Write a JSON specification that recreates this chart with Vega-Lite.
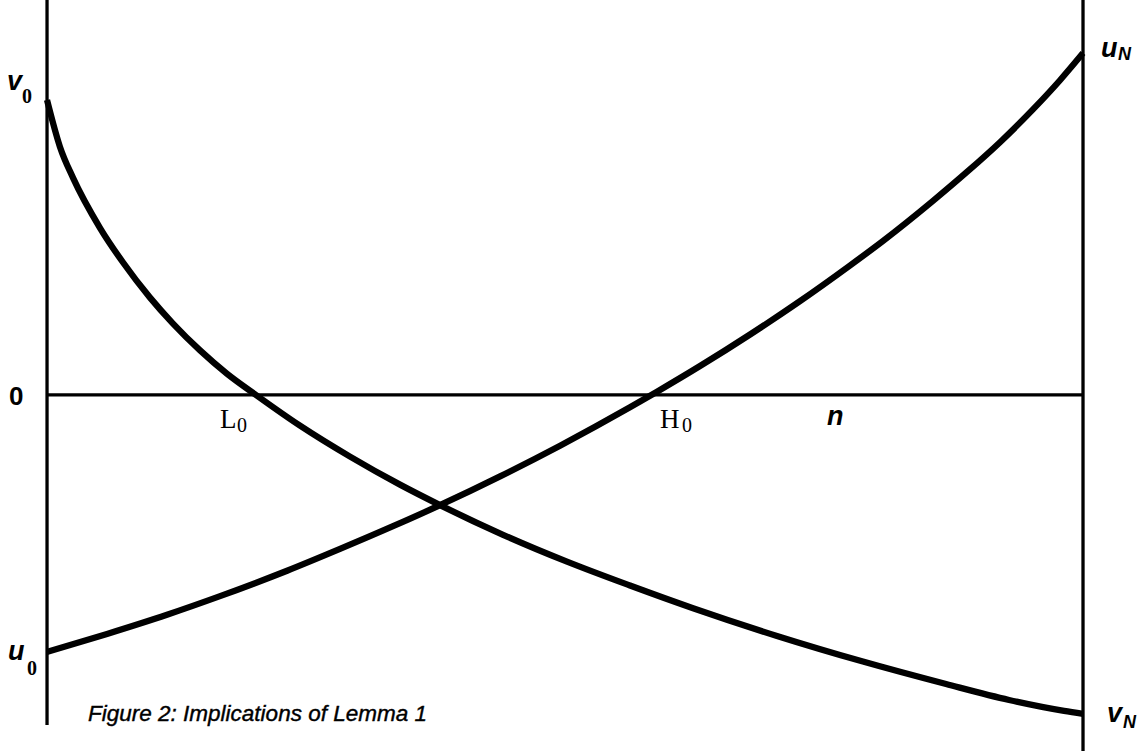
{
  "$schema": "https://vega.github.io/schema/vega-lite/v6.json",
  "width": 1146,
  "height": 751,
  "autosize": "none",
  "padding": 0,
  "background": "white",
  "config": {"view": {"stroke": null}},
  "datasets": {
    "curves": [
      {"series": "v", "n": 0, "val": 10.0},
      {"series": "v", "n": 1.25, "val": 8.41},
      {"series": "v", "n": 2.51, "val": 7.36},
      {"series": "v", "n": 5.12, "val": 5.66},
      {"series": "v", "n": 7.34, "val": 4.49},
      {"series": "v", "n": 9.94, "val": 3.3},
      {"series": "v", "n": 12.16, "val": 2.42},
      {"series": "v", "n": 14.77, "val": 1.51},
      {"series": "v", "n": 17.37, "val": 0.72},
      {"series": "v", "n": 20.17, "val": 0.0},
      {"series": "v", "n": 24.42, "val": -1.04},
      {"series": "v", "n": 29.25, "val": -2.09},
      {"series": "v", "n": 34.07, "val": -3.04},
      {"series": "v", "n": 38.03, "val": -3.75},
      {"series": "v", "n": 44.02, "val": -4.74},
      {"series": "v", "n": 50.19, "val": -5.65},
      {"series": "v", "n": 56.27, "val": -6.46},
      {"series": "v", "n": 62.36, "val": -7.23},
      {"series": "v", "n": 70.46, "val": -8.17},
      {"series": "v", "n": 78.67, "val": -9.03},
      {"series": "v", "n": 86.78, "val": -9.8},
      {"series": "v", "n": 92.86, "val": -10.34},
      {"series": "v", "n": 98.17, "val": -10.71},
      {"series": "v", "n": 100, "val": -10.81},
      {"series": "u", "n": 0, "val": -8.71},
      {"series": "u", "n": 5.79, "val": -8.1},
      {"series": "u", "n": 11.58, "val": -7.45},
      {"series": "u", "n": 16.7, "val": -6.82},
      {"series": "u", "n": 23.17, "val": -5.96},
      {"series": "u", "n": 28.28, "val": -5.22},
      {"series": "u", "n": 33.4, "val": -4.45},
      {"series": "u", "n": 38.03, "val": -3.72},
      {"series": "u", "n": 43.73, "val": -2.76},
      {"series": "u", "n": 49.52, "val": -1.72},
      {"series": "u", "n": 56.27, "val": -0.42},
      {"series": "u", "n": 58.88, "val": 0.11},
      {"series": "u", "n": 63.03, "val": 0.98},
      {"series": "u", "n": 67.86, "val": 2.05},
      {"series": "u", "n": 72.68, "val": 3.18},
      {"series": "u", "n": 77.51, "val": 4.39},
      {"series": "u", "n": 80.69, "val": 5.22},
      {"series": "u", "n": 85.52, "val": 6.58},
      {"series": "u", "n": 88.8, "val": 7.56},
      {"series": "u", "n": 91.99, "val": 8.57},
      {"series": "u", "n": 95.17, "val": 9.68},
      {"series": "u", "n": 97.78, "val": 10.67},
      {"series": "u", "n": 100, "val": 11.59}
    ],
    "verticals": [
      {"n": 0, "top": 13.39, "bottom": -11.19},
      {"n": 100, "top": 13.39, "bottom": -12.07}
    ],
    "horizontal": [
      {"val": 0, "n0": 0, "n1": 100}
    ],
    "sansLetters": [
      {"n": -3.86, "val": 10.34, "label": "v"},
      {"n": -3.76, "val": -8.98, "label": "u"},
      {"n": 101.74, "val": 11.46, "label": "u"},
      {"n": 102.32, "val": -11.08, "label": "v"},
      {"n": 75.29, "val": -1.02, "label": "n"}
    ],
    "sansSubs": [
      {"n": 103.38, "val": 11.36, "label": "N"},
      {"n": 103.86, "val": -11.29, "label": "N"}
    ],
    "endSubs": [
      {"n": -2.41, "val": 9.9, "label": "0"},
      {"n": -1.93, "val": -9.49, "label": "0"}
    ],
    "rootSubs": [
      {"n": 18.34, "val": -1.24, "label": "0"},
      {"n": 61.29, "val": -1.24, "label": "0"}
    ],
    "serifLetters": [
      {"n": 16.7, "val": -1.12, "label": "L"},
      {"n": 59.17, "val": -1.12, "label": "H"}
    ],
    "zeroLabel": [
      {"n": -3.67, "val": -0.34, "label": "0"}
    ],
    "caption": [
      {"n": 3.96, "val": -11.05, "label": "Figure 2: Implications of Lemma 1"}
    ]
  },
  "encoding": {
    "x": {"field": "n", "type": "quantitative", "scale": {"domain": [-4.54, 106.08], "nice": false, "zero": false}, "axis": null},
    "y": {"field": "val", "type": "quantitative", "scale": {"domain": [-12.07, 13.39], "nice": false, "zero": false}, "axis": null}
  },
  "layer": [
    {
      "data": {"name": "verticals"},
      "mark": {"type": "rule", "color": "black", "strokeWidth": 3.3},
      "encoding": {
        "y": {"field": "top", "type": "quantitative"},
        "y2": {"field": "bottom"}
      }
    },
    {
      "data": {"name": "horizontal"},
      "mark": {"type": "rule", "color": "black", "strokeWidth": 3.3},
      "encoding": {
        "x": {"field": "n0", "type": "quantitative"},
        "x2": {"field": "n1"}
      }
    },
    {
      "data": {"name": "curves"},
      "mark": {"type": "line", "color": "black", "strokeWidth": 6.3, "interpolate": "monotone", "strokeCap": "butt"},
      "encoding": {
        "detail": {"field": "series", "type": "nominal"}
      }
    },
    {
      "data": {"name": "sansLetters"},
      "mark": {"type": "text", "font": "Liberation Sans", "fontWeight": "bold", "fontStyle": "italic", "fontSize": 27, "align": "left", "baseline": "alphabetic", "color": "black"},
      "encoding": {"text": {"field": "label"}}
    },
    {
      "data": {"name": "sansSubs"},
      "mark": {"type": "text", "font": "Liberation Sans", "fontWeight": "bold", "fontStyle": "italic", "fontSize": 18, "align": "left", "baseline": "alphabetic", "color": "black"},
      "encoding": {"text": {"field": "label"}}
    },
    {
      "data": {"name": "serifLetters"},
      "mark": {"type": "text", "font": "Liberation Serif", "fontSize": 27, "align": "left", "baseline": "alphabetic", "color": "black"},
      "encoding": {"text": {"field": "label"}}
    },
    {
      "data": {"name": "endSubs"},
      "mark": {"type": "text", "font": "Liberation Serif", "fontWeight": "bold", "fontSize": 20, "align": "left", "baseline": "alphabetic", "color": "black"},
      "encoding": {"text": {"field": "label"}}
    },
    {
      "data": {"name": "rootSubs"},
      "mark": {"type": "text", "font": "Liberation Serif", "fontSize": 20, "align": "left", "baseline": "alphabetic", "color": "black"},
      "encoding": {"text": {"field": "label"}}
    },
    {
      "data": {"name": "zeroLabel"},
      "mark": {"type": "text", "font": "Liberation Sans", "fontWeight": "bold", "fontSize": 26, "align": "left", "baseline": "alphabetic", "color": "black"},
      "encoding": {"text": {"field": "label"}}
    },
    {
      "data": {"name": "caption"},
      "mark": {"type": "text", "font": "Liberation Sans", "fontStyle": "italic", "fontSize": 22.5, "align": "left", "baseline": "alphabetic", "color": "black", "stroke": "black", "strokeWidth": 0.4},
      "encoding": {"text": {"field": "label"}}
    }
  ]
}
